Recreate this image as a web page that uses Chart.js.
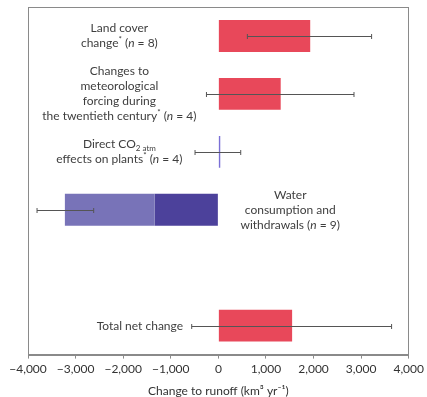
<!DOCTYPE html>
<html>
<head>
<meta charset="utf-8">
<script src="https://cdn.jsdelivr.net/npm/chart.js@4.4.0/dist/chart.umd.min.js"></script>
<style>
  body { margin: 0; background: #fff; }
  #wrap { width: 427px; height: 397px; }
</style>
</head>
<body>
<div id="wrap"><canvas id="runoff"></canvas></div>
<script>
// categories, top to bottom (one empty slot before the total)
const categories = ['Land cover', 'Meteorological forcing', 'Direct CO2', 'Water use', '', 'Total net change'];
// main bar values (km3/yr); CO2 is ~0, drawn as a thin line
const barValues = [1930, 1310, 40, -1340, null, 1550];
// water consumption: lighter segment extends further
const waterStart = [null, null, null, -1340, null, null];
const waterEnd = [null, null, null, -3225, null, null];
// error bar ranges
const errLow = [610, -250, -490, -3810, null, -560];
const errHigh = [3220, 2850, 470, -2620, null, 3640];
// x ticks
const tickValues = [-4000, -3000, -2000, -1000, 0, 1000, 2000, 3000, 4000];

// label texts, [text, style] segments per line
const labelLines = [
    [[['Land cover', '']], [['change', ''], ['*', 'sup'], [' (', ''], ['n', 'i'], [' = 8)', '']]],
    [[['Changes to', '']], [['meteorological', '']], [['forcing during', '']],
     [['the twentieth century', ''], ['*', 'sup'], [' (', ''], ['n', 'i'], [' = 4)', '']]],
    [[['Direct CO', ''], ['2 atm', 'sub']], [['effects on plants', ''], ['*', 'sup'], [' (', ''], ['n', 'i'], [' = 4)', '']]],
    [[['Water', '']], [['consumption and', '']], [['withdrawals (', ''], ['n', 'i'], [' = 9)', '']]],
    null,
    [[['Total net change', '']]]
];
const labelAt = [-2080, -2080, -2080, 1510, null, -1650];

const red = '#e8485a';
const barColors = [red, red, '#7a6fd6', '#4c419b', red, red];
const FONT = 'Lato, "Open Sans", sans-serif';

function segFont(style) {
    if (style == 'i') return 'italic 12px ' + FONT;
    if (style == 'sup' || style == 'sub') return '8px ' + FONT;
    return '12px ' + FONT;
}

const boxPlugin = {
    id: 'box',
    beforeDatasetsDraw(chart) {
        const a = chart.chartArea, ctx = chart.ctx;
        ctx.save();
        ctx.strokeStyle = '#8a8a8a';
        ctx.lineWidth = 1;
        ctx.strokeRect(Math.round(a.left) + 0.5, Math.round(a.top) + 0.5,
            Math.round(a.right - a.left) - 1, Math.round(a.bottom - a.top));
        ctx.restore();
    }
};

const errorPlugin = {
    id: 'errbars',
    afterDatasetsDraw(chart) {
        const x = chart.scales.x, y = chart.scales.y, ctx = chart.ctx;
        ctx.save();
        ctx.strokeStyle = '#555';
        ctx.lineWidth = 1;
        for (let i = 0; i < categories.length; i++) {
            if (errLow[i] == null) continue;
            const yy = Math.round(y.getPixelForValue(i)) + 0.5;
            const x1 = x.getPixelForValue(errLow[i]);
            const x2 = x.getPixelForValue(errHigh[i]);
            ctx.beginPath();
            ctx.moveTo(x1, yy); ctx.lineTo(x2, yy);
            ctx.moveTo(x1, yy - 2.5); ctx.lineTo(x1, yy + 2.5);
            ctx.moveTo(x2, yy - 2.5); ctx.lineTo(x2, yy + 2.5);
            ctx.stroke();
        }
        ctx.restore();
    }
};

const labelPlugin = {
    id: 'rowlabels',
    afterDraw(chart) {
        const x = chart.scales.x, y = chart.scales.y, ctx = chart.ctx;
        const lh = 15;
        ctx.save();
        ctx.fillStyle = '#3e3e3e';
        ctx.textBaseline = 'middle';
        ctx.textAlign = 'left';
        for (let i = 0; i < categories.length; i++) {
            const lines = labelLines[i];
            if (!lines) continue;
            const cx = x.getPixelForValue(labelAt[i]);
            const cy = y.getPixelForValue(i);
            const top = cy - (lines.length - 1) * lh / 2;
            lines.forEach(function (segs, li) {
                let w = 0;
                segs.forEach(function (s) { ctx.font = segFont(s[1]); w += ctx.measureText(s[0]).width; });
                let px = cx - w / 2;
                const py = top + li * lh;
                segs.forEach(function (s) {
                    ctx.font = segFont(s[1]);
                    let dy = 0;
                    if (s[1] == 'sup') dy = -4;
                    if (s[1] == 'sub') dy = 4;
                    ctx.fillText(s[0], px, py + dy);
                    px += ctx.measureText(s[0]).width;
                });
            });
        }
        ctx.restore();
    }
};

function fmt(v) {
    const s = Math.abs(v).toLocaleString('en-US');
    return v < 0 ? '\u2212' + s : s;
}

const ctx1 = document.getElementById('runoff');
new Chart(ctx1, {
    type: 'bar',
    data: {
        labels: categories,
        datasets: [{
            label: 'Water withdrawals',
            data: waterStart.map(function (v, i) { return v == null ? null : [waterEnd[i], v]; }),
            backgroundColor: '#7873b8',
            grouped: false,
            barPercentage: 0.55,
            categoryPercentage: 1
        }, {
            label: 'Change',
            data: barValues,
            backgroundColor: barColors,
            grouped: false,
            barPercentage: 0.55,
            categoryPercentage: 1
        }]
    },
    options: {
        indexAxis: 'y',
        responsive: true,
        maintainAspectRatio: false,
        animation: false,
        layout: { padding: { left: 28, right: 17, top: 7, bottom: 0 } },
        plugins: {
            legend: { display: false },
            tooltip: { enabled: false }
        },
        scales: {
            y: { display: false },
            x: {
                min: -4000,
                max: 4000,
                afterBuildTicks: function (axis) {
                    axis.ticks = tickValues.map(function (v) { return { value: v }; });
                },
                grid: { drawOnChartArea: false, tickLength: 4, color: '#8a8a8a' },
                border: { color: '#8a8a8a' },
                ticks: {
                    callback: fmt,
                    color: '#333',
                    padding: 3,
                    maxRotation: 0,
                    font: { family: FONT, size: 12 }
                },
                title: {
                    display: true,
                    text: 'Change to runoff (km\u00b3 yr\u207b\u00b9)',
                    color: '#333',
                    font: { family: FONT, size: 12, lineHeight: 1 },
                    padding: { top: 6, bottom: 0 }
                }
            }
        }
    },
    plugins: [boxPlugin, errorPlugin, labelPlugin]
});
</script>
</body>
</html>
